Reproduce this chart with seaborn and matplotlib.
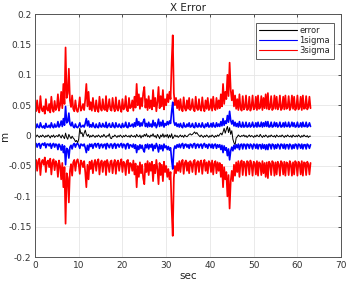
import numpy as np
import pandas as pd
import matplotlib
matplotlib.use("Agg")
import matplotlib.pyplot as plt
import seaborn as sns

# time grid: 0 .. 63 s, 4 samples per second
t = np.linspace(0, 63, 253)

sigma3 = [
    0.045, 0.040, 0.058, 0.042, 0.038, 0.065, 0.044, 0.040, 0.048, 0.036, 0.060, 0.043,
    0.041, 0.052, 0.038, 0.064, 0.044, 0.039, 0.057, 0.042, 0.046, 0.068, 0.041, 0.050,
    0.072, 0.045, 0.085, 0.052, 0.145, 0.062, 0.070, 0.110, 0.058, 0.047, 0.066, 0.044,
    0.040, 0.058, 0.043, 0.039, 0.047, 0.063, 0.041, 0.045, 0.052, 0.042, 0.060, 0.085,
    0.048, 0.072, 0.043, 0.055, 0.041, 0.062, 0.046, 0.040, 0.058, 0.043, 0.039, 0.064,
    0.045, 0.041, 0.060, 0.044, 0.042, 0.065, 0.040, 0.047, 0.060, 0.043, 0.041, 0.062,
    0.046, 0.040, 0.063, 0.044, 0.041, 0.058, 0.045, 0.039, 0.060, 0.043, 0.046, 0.065,
    0.042, 0.040, 0.062, 0.045, 0.047, 0.058, 0.041, 0.064, 0.046, 0.085, 0.050, 0.068,
    0.044, 0.062, 0.048, 0.070, 0.080, 0.046, 0.060, 0.042, 0.065, 0.045, 0.058, 0.043,
    0.075, 0.048, 0.062, 0.040, 0.055, 0.080, 0.045, 0.065, 0.048, 0.075, 0.043, 0.060,
    0.050, 0.068, 0.055, 0.072, 0.060, 0.120, 0.165, 0.070, 0.050, 0.062, 0.045, 0.058,
    0.042, 0.060, 0.044, 0.040, 0.063, 0.045, 0.041, 0.058, 0.044, 0.062, 0.042, 0.046,
    0.060, 0.043, 0.040, 0.064, 0.045, 0.042, 0.060, 0.044, 0.041, 0.063, 0.046, 0.040,
    0.058, 0.044, 0.062, 0.042, 0.045, 0.060, 0.041, 0.064, 0.046, 0.042, 0.062, 0.044,
    0.058, 0.045, 0.068, 0.048, 0.085, 0.052, 0.072, 0.060, 0.100, 0.065, 0.120, 0.075,
    0.058, 0.075, 0.048, 0.066, 0.044, 0.060, 0.042, 0.068, 0.045, 0.041, 0.065, 0.043,
    0.046, 0.066, 0.042, 0.044, 0.064, 0.041, 0.047, 0.066, 0.043, 0.045, 0.064, 0.042,
    0.066, 0.044, 0.046, 0.065, 0.042, 0.062, 0.045, 0.068, 0.044, 0.070, 0.043, 0.046,
    0.065, 0.042, 0.045, 0.066, 0.044, 0.064, 0.043, 0.047, 0.066, 0.042, 0.045, 0.064,
    0.043, 0.066, 0.044, 0.046, 0.065, 0.042, 0.047, 0.066, 0.044, 0.064, 0.042, 0.045,
    0.066, 0.043, 0.046, 0.064, 0.042, 0.066, 0.044, 0.045, 0.065, 0.043, 0.047, 0.064,
    0.045,
]

sigma1 = [
    0.015, 0.013, 0.019, 0.014, 0.013, 0.021, 0.015, 0.013, 0.016, 0.012, 0.020, 0.014,
    0.014, 0.017, 0.013, 0.021, 0.015, 0.013, 0.019, 0.014, 0.015, 0.023, 0.014, 0.017,
    0.024, 0.015, 0.028, 0.017, 0.048, 0.021, 0.023, 0.037, 0.019, 0.016, 0.022, 0.015,
    0.013, 0.019, 0.014, 0.013, 0.016, 0.021, 0.014, 0.015, 0.017, 0.014, 0.020, 0.028,
    0.016, 0.024, 0.014, 0.018, 0.014, 0.021, 0.015, 0.013, 0.019, 0.014, 0.013, 0.021,
    0.015, 0.014, 0.020, 0.015, 0.014, 0.022, 0.013, 0.016, 0.020, 0.014, 0.014, 0.021,
    0.015, 0.013, 0.021, 0.015, 0.014, 0.019, 0.015, 0.013, 0.020, 0.014, 0.015, 0.022,
    0.014, 0.013, 0.021, 0.015, 0.016, 0.019, 0.014, 0.021, 0.015, 0.028, 0.017, 0.023,
    0.015, 0.021, 0.016, 0.023, 0.027, 0.015, 0.020, 0.014, 0.022, 0.015, 0.019, 0.014,
    0.025, 0.016, 0.021, 0.013, 0.018, 0.027, 0.015, 0.022, 0.016, 0.025, 0.014, 0.020,
    0.017, 0.023, 0.018, 0.024, 0.020, 0.040, 0.055, 0.023, 0.017, 0.021, 0.015, 0.019,
    0.014, 0.020, 0.015, 0.013, 0.021, 0.015, 0.014, 0.019, 0.015, 0.021, 0.014, 0.015,
    0.020, 0.014, 0.013, 0.021, 0.015, 0.014, 0.020, 0.015, 0.014, 0.021, 0.015, 0.013,
    0.019, 0.015, 0.021, 0.014, 0.015, 0.020, 0.014, 0.021, 0.015, 0.014, 0.021, 0.015,
    0.019, 0.015, 0.023, 0.016, 0.028, 0.017, 0.024, 0.020, 0.033, 0.022, 0.040, 0.025,
    0.019, 0.025, 0.016, 0.022, 0.015, 0.020, 0.014, 0.023, 0.015, 0.014, 0.022, 0.014,
    0.015, 0.022, 0.014, 0.015, 0.021, 0.014, 0.016, 0.022, 0.014, 0.015, 0.021, 0.014,
    0.022, 0.015, 0.015, 0.022, 0.014, 0.021, 0.015, 0.023, 0.015, 0.023, 0.014, 0.015,
    0.022, 0.014, 0.015, 0.022, 0.015, 0.021, 0.014, 0.016, 0.022, 0.014, 0.015, 0.021,
    0.014, 0.022, 0.015, 0.015, 0.022, 0.014, 0.016, 0.022, 0.015, 0.021, 0.014, 0.015,
    0.022, 0.014, 0.015, 0.021, 0.014, 0.022, 0.015, 0.015, 0.022, 0.014, 0.016, 0.021,
    0.015,
]

error = [
    0.000, -0.002, 0.001, -0.001, -0.003, 0.000, -0.002, 0.001, -0.001, -0.003, 0.000, -0.002,
    0.001, -0.001, -0.004, 0.000, -0.002, 0.001, -0.003, -0.001, 0.000, -0.002, 0.002, -0.001,
    -0.004, 0.001, -0.002, -0.005, 0.004, -0.003, -0.006, 0.002, -0.002, -0.005, -0.001, -0.004,
    -0.006, -0.010, -0.008, -0.012, -0.006, 0.012, 0.003, 0.005, -0.002, 0.004, 0.009, 0.002,
    -0.001, 0.002, -0.003, 0.000, -0.002, 0.001, -0.001, -0.003, 0.000, -0.002, 0.001, -0.001,
    -0.003, 0.000, -0.002, 0.002, -0.001, -0.003, 0.000, -0.001, 0.003, -0.004, -0.005, -0.001,
    -0.002, 0.001, -0.001, -0.003, 0.000, -0.002, 0.001, -0.001, -0.003, 0.000, -0.002, 0.001,
    -0.001, -0.002, 0.000, -0.003, 0.001, -0.001, -0.002, 0.000, -0.003, 0.002, -0.001, -0.002,
    0.001, -0.004, 0.000, -0.002, 0.002, -0.001, 0.003, -0.002, 0.000, -0.003, 0.001, -0.001,
    0.003, -0.002, 0.000, -0.004, 0.002, -0.001, -0.005, 0.001, -0.002, 0.003, -0.003, 0.001,
    -0.002, 0.002, -0.004, 0.001, -0.003, 0.003, -0.005, -0.002, 0.001, -0.002, 0.000, -0.003,
    -0.001, 0.001, -0.002, 0.000, -0.003, 0.001, -0.001, -0.002, 0.000, 0.002, 0.003, 0.001,
    0.002, 0.004, 0.006, 0.003, 0.005, 0.002, 0.000, -0.002, 0.001, -0.001, -0.003, 0.000,
    -0.002, 0.001, -0.001, -0.003, 0.000, -0.002, 0.001, -0.001, -0.003, 0.000, -0.002, 0.001,
    -0.001, 0.002, 0.004, 0.001, 0.006, 0.012, 0.004, 0.010, 0.015, 0.005, 0.013, 0.002,
    0.008, -0.006, -0.012, -0.015, -0.004, -0.002, 0.001, -0.001, -0.002, 0.000, -0.001, 0.001,
    -0.002, 0.000, -0.003, -0.001, 0.001, -0.002, 0.000, -0.001, -0.003, 0.000, -0.002, 0.001,
    -0.001, -0.002, 0.002, -0.001, -0.003, 0.000, -0.002, 0.001, -0.001, -0.003, 0.000, -0.002,
    0.001, -0.001, -0.002, 0.000, -0.003, 0.001, -0.001, -0.002, 0.000, -0.002, 0.001, -0.001,
    -0.003, 0.000, -0.002, 0.001, -0.001, -0.002, 0.000, -0.003, 0.001, -0.001, -0.002, 0.000,
    -0.002, 0.001, -0.001, -0.003, 0.000, -0.002, 0.001, -0.001, -0.002, 0.000, -0.003, -0.001,
    -0.001,
]

series_names = ["error", "1sigma", "3sigma"]
series_colors = ["#000000", "#0000ff", "#ff0000"]

sns.set_theme(style="whitegrid")
plt.rcParams['font.family'] = ['DejaVu Sans']

fig = plt.figure(figsize=(3.46, 2.81), dpi=100)
ax = fig.add_axes([0.101, 0.085, 0.885, 0.865])

df = pd.DataFrame({"t": t, "error": error, "s1": sigma1, "s3": sigma3})
df["s1n"] = -df["s1"]
df["s3n"] = -df["s3"]

sns.lineplot(data=df, x="t", y="error", ax=ax, color=series_colors[0], lw=0.7, label=series_names[0])
sns.lineplot(data=df, x="t", y="s1", ax=ax, color=series_colors[1], lw=1.2, label=series_names[1])
sns.lineplot(data=df, x="t", y="s3", ax=ax, color=series_colors[2], lw=1.25, label=series_names[2])
sns.lineplot(data=df, x="t", y="s1n", ax=ax, color=series_colors[1], lw=1.2, legend=False)
sns.lineplot(data=df, x="t", y="s3n", ax=ax, color=series_colors[2], lw=1.25, legend=False)

ax.set_xlim(0, 70)
ax.set_ylim(-0.2, 0.2)
ax.set_xticks(np.arange(0, 71, 10))
ax.set_yticks(np.round(np.arange(-0.2, 0.201, 0.05), 2))
ax.set_yticklabels(["-0.2", "-0.15", "-0.1", "-0.05", "0", "0.05", "0.1", "0.15", "0.2"])

ax.grid(True, color="#e6e6e6", lw=0.6)
for s in ax.spines.values():
    s.set_color("#555555")
    s.set_linewidth(0.7)
ax.tick_params(axis="both", labelsize=6.5, colors="#333333", direction="in",
               length=2.5, width=0.6, pad=2.5, top=True, right=True)
ax.set_title("X Error", fontsize=7.5, color="#222222", pad=2)
ax.set_xlabel("sec", fontsize=7.5, color="#222222", labelpad=1)
ax.set_ylabel("m", fontsize=7.5, color="#222222")
ax.yaxis.set_label_coords(-0.082, 0.5)

leg = ax.legend(loc="upper right", bbox_to_anchor=(0.975, 0.965), fontsize=6,
                frameon=True, fancybox=False, borderpad=0.4, handlelength=4.5,
                handletextpad=0.3, labelspacing=0.15, borderaxespad=0)
leg.get_frame().set_edgecolor("#333333")
leg.get_frame().set_linewidth(0.7)
for line in leg.get_lines():
    line.set_linewidth(0.8)

fig.savefig("out.png", dpi=100)
